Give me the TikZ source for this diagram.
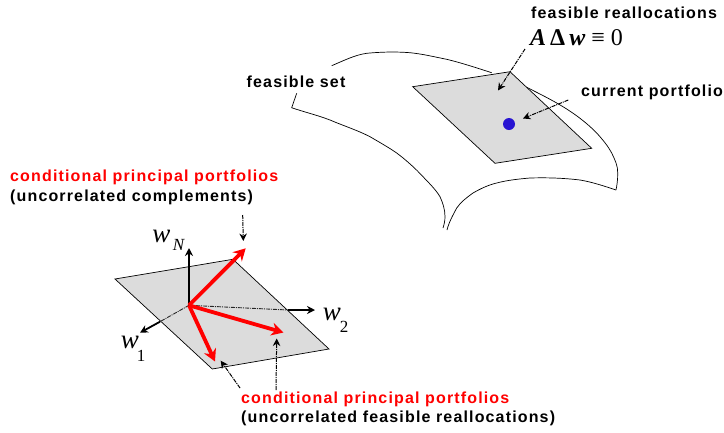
\documentclass[tikz,border=0pt]{standalone}
\usepackage{fontspec}
\setmainfont{Liberation Sans}[LetterSpace=7.2]
\newfontfamily\tnr{Liberation Serif}
\usetikzlibrary{arrows.meta}
\definecolor{plategray}{RGB}{220,220,220}
\definecolor{dotblue}{RGB}{40,20,210}
\tikzset{
  x=1pt,y=-1pt,
  lbl/.style={font=\fontsize{16}{18}\selectfont\bfseries,inner sep=0pt,anchor=west},
  redlbl/.style={lbl,text=red},
  mathlbl/.style={font=\fontsize{27}{27}\selectfont\tnr\itshape,inner sep=0pt},
  subl/.style={font=\fontsize{17}{17}\selectfont\tnr\itshape,inner sep=0pt},
  subn/.style={font=\fontsize{17}{17}\selectfont\tnr,inner sep=0pt},
  plate/.style={draw=black,fill=plategray,line width=0.7pt,line join=miter},
  surf/.style={draw=black,line width=0.7pt},
  axis/.style={draw=black,line width=1.8pt,-{Stealth[length=8pt,width=8pt]}},
  redarrow/.style={draw=red,line width=3.8pt,-{Stealth[length=12pt,width=13pt]}},
  leader/.style={draw=black!85,line width=0.9pt,dash pattern=on 4pt off 1pt on 1pt off 1pt},
  note/.style={draw=black,line width=1pt,dash pattern=on 4pt off 1pt on 1pt off 1pt,-{Stealth[length=7.5pt,width=7.5pt]}},
}
\begin{document}
\begin{tikzpicture}
\useasboundingbox (0,0) rectangle (724,432);
% feasible surface
\draw[surf] (331.7,65.7) .. controls (345,60) and (355,55) .. (366.7,53.3) .. controls (380,52) and (395,51.5) .. (410,52.7) .. controls (423,54) and (435,57) .. (446.7,59.3) .. controls (462,63) and (477,68) .. (491.7,72.7);
\draw[surf] (526.7,87.3) .. controls (540,94) and (552,100) .. (563,106.7) .. controls (575,114) and (587,123) .. (596.7,133) .. controls (603,140) and (608,146) .. (611.7,153) .. controls (615,160) and (618,166) .. (617.7,173) .. controls (617.8,180) and (617,185) .. (616,190);
\draw[surf] (616,190) .. controls (604,186) and (592,182) .. (580,180) .. controls (563,178) and (547,177.5) .. (530,178) .. controls (519,179) and (508,180) .. (496.7,183) .. controls (488,185) and (480,189) .. (473,193) .. controls (466,198) and (461,202) .. (456.7,208) .. controls (453,215) and (449,222) .. (447,230);
\draw[surf] (296.7,93.3) -- (291.7,107.7) .. controls (304,112) and (317,115) .. (330,120) .. controls (344,126) and (357,130) .. (370,136.7) .. controls (379,142) and (388,147) .. (396.7,153) .. controls (406,160) and (415,168) .. (423,176.7) .. controls (430,184) and (436,190) .. (440,196.7) .. controls (443,203) and (445,210) .. (445,216.7) .. controls (445,221) and (444,225) .. (443,228);
% upper plate
\draw[plate] (412.7,86.7) -- (510,71.7) -- (591.7,148.3) -- (495,163.3) -- cycle;
\node[circle,fill=dotblue,minimum size=12pt,inner sep=0pt] (dot) at (509,124) {};
% upper labels
\node[lbl] (setlbl) at (246.5,81.5) {feasible set};
\node[lbl] (reallbl) at (531,12.5) {feasible reallocations};
\node[inner sep=0pt,anchor=west,font=\fontsize{24}{24}\selectfont\tnr] (aeq) at (530,38) {\textbf{\textit{A}}\,\textbf{Δ}\,\textbf{\textit{w}} ≡ 0};
\node[lbl] (curlbl) at (581,92) {current portfolio};
% upper leaders
\coordinate (r0) at (525,49);
\coordinate (r1) at (498,90.5);
\coordinate (c0) at (568.3,100);
\coordinate (c1) at (523,118.5);
\draw[note] (r0) -- (r1);
\draw[note] (c0) -- (c1);
% lower plate
\draw[plate] (115,279) -- (233,259.3) -- (329,349) -- (212.3,369) -- cycle;
\coordinate (o) at (189,305.3);
\coordinate (wn) at (189,248);
\coordinate (w2a) at (288,310);
\coordinate (w2b) at (315,310);
\coordinate (w1a) at (160,321.7);
\coordinate (w1b) at (140,332.7);
\draw[axis] (o) -- (wn);
\draw[leader] (o) -- (w2a);
\draw[leader] (o) -- (w1a);
\draw[axis] (w2a) -- (w2b);
\draw[axis] (w1a) -- (w1b);
\coordinate (ra) at (245.7,248.3);
\coordinate (rb) at (283.5,332.5);
\coordinate (rc) at (215,361.5);
\draw[redarrow] (o) -- (ra);
\draw[redarrow] (o) -- (rb);
\draw[redarrow] (o) -- (rc);
% axis labels
\node[mathlbl] (lwn) at (161.5,236) {w};
\node[subl] (lwnsub) at (178.5,244.5) {N};
\node[mathlbl] (lw2) at (332,314.5) {w};
\node[subn] (lw2sub) at (344,326.5) {2};
\node[mathlbl] (lw1) at (130,342) {w};
\node[subn] (lw1sub) at (141,355.5) {1};
% lower labels
\node[redlbl] (t1) at (10,177) {conditional principal portfolios};
\node[lbl] (t2) at (10,197.5) {(uncorrelated complements)};
\node[redlbl] (t3) at (241,399.5) {conditional principal portfolios};
\node[lbl] (t4) at (241,418.5) {(uncorrelated feasible reallocations)};
% lower leaders
\coordinate (n0) at (242.7,215);
\coordinate (n1) at (243.3,241);
\coordinate (m0) at (276,390);
\coordinate (m1) at (276.7,338.5);
\coordinate (k0) at (240,388);
\coordinate (k1) at (220.7,360.7);
\draw[note] (n0) -- (n1);
\draw[note] (m0) -- (m1);
\draw[note] (k0) -- (k1);
\end{tikzpicture}
\end{document}
